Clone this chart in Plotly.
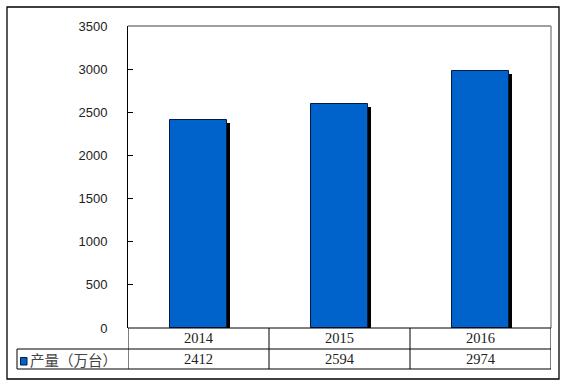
import plotly.graph_objects as go

categories = ["2014", "2015", "2016"]
values = [2412, 2594, 2974]
series_name = "产量（万台）"
y_ticks = [0, 500, 1000, 1500, 2000, 2500, 3000, 3500]

W, H = 566, 385
L, R, T, B = 128, 551, 26, 328  # plot area in px
pw, ph = R - L, B - T
ymax = 3500

def px(x):
    return (x - L) / pw

def py(y):
    return (B - y) / ph

xs = list(range(len(categories)))
bar_w = 0.40
dx = 3.0 / pw * len(categories)       # 3px in x units
dy = 3.0 / ph * ymax                  # 3px in y units

fig = go.Figure()
# shadow
fig.add_trace(go.Bar(
    x=xs, y=values, base=[-dy] * len(values), width=bar_w,
    offset=-bar_w / 2 + dx, marker=dict(color="black", line=dict(width=0)),
    showlegend=False, hoverinfo="skip"))
# main bars
fig.add_trace(go.Bar(
    x=xs, y=values, width=bar_w, offset=-bar_w / 2,
    marker=dict(color="#0063CC", line=dict(color="#001a40", width=1)),
    name=series_name, showlegend=False))

shapes = []
# outer border
shapes.append(dict(type="rect", xref="paper", yref="paper",
                   x0=px(7), x1=px(559), y0=py(379), y1=py(7),
                   line=dict(color="black", width=1.3)))
# plot area top/right border grey
shapes.append(dict(type="line", xref="paper", yref="paper",
                   x0=0, x1=1, y0=1, y1=1, line=dict(color="#808080", width=1.3)))
shapes.append(dict(type="line", xref="paper", yref="paper",
                   x0=1, x1=1, y0=0, y1=1, line=dict(color="#808080", width=1.3)))
# table
r1, r2, r3 = 328, 349, 369
blk = dict(color="black", width=1)
for yv in (r2, r3):
    shapes.append(dict(type="line", xref="paper", yref="paper",
                       x0=px(17), x1=1, y0=py(yv), y1=py(yv), line=blk))
shapes.append(dict(type="line", xref="paper", yref="paper",
                   x0=0, x1=1, y0=0, y1=0, line=blk))
for i in range(len(categories) + 1):
    xv = i - 0.5
    shapes.append(dict(type="line", xref="x", yref="paper",
                       x0=xv, x1=xv, y0=py(r3), y1=0, line=blk))
shapes.append(dict(type="line", xref="paper", yref="paper",
                   x0=px(17), x1=px(17), y0=py(r3), y1=py(r2), line=blk))
# legend key
shapes.append(dict(type="rect", xref="paper", yref="paper",
                   x0=px(20.5), x1=px(27), y0=py(365), y1=py(357.5),
                   fillcolor="#0063CC", line=dict(color="#001a40", width=1)))

annotations = []
tfont = dict(family="Liberation Serif, serif", size=14.5, color="#222222")
for i, c in enumerate(categories):
    annotations.append(dict(x=i, y=py((r1 + r2) / 2), xref="x", yref="paper",
                            text=c, showarrow=False, font=tfont,
                            xanchor="center", yanchor="middle"))
    annotations.append(dict(x=i, y=py((r2 + r3) / 2), xref="x", yref="paper",
                            text=str(values[i]), showarrow=False, font=tfont,
                            xanchor="center", yanchor="middle"))
annotations.append(dict(x=px(28), y=py((r2 + r3) / 2), xref="paper", yref="paper",
                        text=series_name, showarrow=False,
                        font=dict(family="Noto Sans CJK SC", size=14.5, color="#444444"),
                        xanchor="left", yanchor="middle"))

fig.update_layout(
    width=W, height=H, autosize=False,
    margin=dict(l=L, r=W - R, t=T, b=H - B, pad=0),
    paper_bgcolor="white", plot_bgcolor="white",
    barmode="overlay", bargap=0,
    shapes=shapes, annotations=annotations,
    xaxis=dict(range=[-0.5, len(categories) - 0.5], showticklabels=False,
               showgrid=False, zeroline=False, showline=False, ticks="",
               fixedrange=True),
    yaxis=dict(range=[0, ymax], tickvals=y_ticks, ticktext=[str(v) for v in y_ticks],
               showgrid=False, zeroline=False, showline=True, linecolor="black",
               linewidth=1, ticks="inside", ticklen=5, tickcolor="black",
               ticklabelstandoff=17,
               tickfont=dict(family="Liberation Sans, Arial", size=13, color="#222222")),
    font=dict(family="Liberation Sans"),
)

fig.write_html("out.html", config={"displayModeBar": False},
               post_script="document.body.style.margin='0';document.body.style.overflow='hidden';")
